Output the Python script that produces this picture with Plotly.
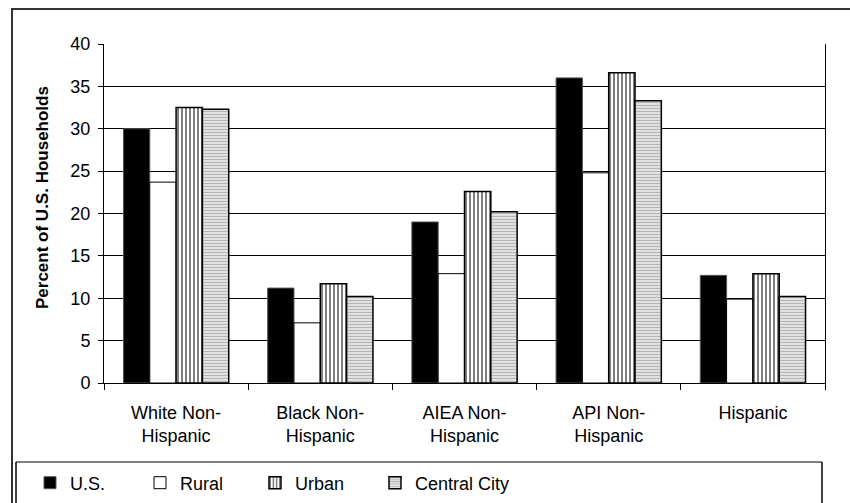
import plotly.graph_objects as go

categories = ["White Non-<br>Hispanic", "Black Non-<br>Hispanic", "AIEA Non-<br>Hispanic",
              "API Non-<br>Hispanic", "Hispanic"]
us = [30.0, 11.2, 19.0, 36.0, 12.7]
rural = [23.7, 7.1, 12.9, 24.8, 9.9]
urban = [32.5, 11.7, 22.6, 36.6, 12.9]
central_city = [32.3, 10.2, 20.2, 33.3, 10.2]
y_ticks = [0, 5, 10, 15, 20, 25, 30, 35, 40]
y_title = "<b>Percent of U.S. Households</b>"

W, H = 850, 503
L, R, T, B = 104, 825, 44, 383

FONT = "Liberation Sans, Arial, sans-serif"
FS = 18


def px_x(p):
    return (p - L) / (R - L)


def px_y(p):
    return (B - p) / (B - T)


fig = go.Figure()
fig.add_bar(name="U.S.", x=categories, y=us, legend="legend",
            marker=dict(color="black", line=dict(color="#555", width=1)))
fig.add_bar(name="Rural", x=categories, y=rural, legend="legend2",
            marker=dict(color="white", line=dict(color="black", width=1)))
fig.add_bar(name="Urban", x=categories, y=urban, legend="legend3",
            marker=dict(color="white", line=dict(color="black", width=1.5),
                        pattern=dict(shape="|", fgcolor="black", bgcolor="white",
                                     size=4, solidity=0.5, fillmode="overlay")))
fig.add_bar(name="Central City", x=categories, y=central_city, legend="legend4",
            marker=dict(color="white", line=dict(color="black", width=1.5),
                        pattern=dict(shape="-", fgcolor="#6a6a6a", bgcolor="white",
                                     size=3, solidity=0.6, fillmode="overlay")))

shapes = [
    # outer chart border
    dict(type="rect", xref="paper", yref="paper", x0=px_x(12), x1=px_x(900),
         y0=px_y(9), y1=px_y(560), line=dict(color="#333", width=2)),
    # legend box
    dict(type="line", xref="paper", yref="paper", x0=px_x(16), x1=px_x(822),
         y0=px_y(462), y1=px_y(462), line=dict(color="#808080", width=2)),
    dict(type="line", xref="paper", yref="paper", x0=px_x(16), x1=px_x(16),
         y0=px_y(462), y1=px_y(560), line=dict(color="black", width=1.5)),
    dict(type="line", xref="paper", yref="paper", x0=px_x(822), x1=px_x(822),
         y0=px_y(462), y1=px_y(560), line=dict(color="black", width=1.5)),
]


def leg(xpx):
    return dict(orientation="h", x=px_x(xpx), xanchor="left",
                y=px_y(483), yanchor="middle",
                font=dict(family=FONT, size=FS, color="black"),
                bgcolor="rgba(0,0,0,0)", borderwidth=0)


fig.update_layout(
    width=W, height=H,
    margin=dict(l=L, r=W - R, t=T, b=H - B, pad=0, autoexpand=False),
    paper_bgcolor="white", plot_bgcolor="white",
    font=dict(family=FONT, size=FS, color="black"),
    barmode="group", bargap=0.27, bargroupgap=0,
    shapes=shapes,
    showlegend=True,
    legend=leg(30), legend2=leg(140), legend3=leg(255), legend4=leg(375),
    annotations=[dict(text=y_title, textangle=-90, xref="paper", yref="paper",
                      x=px_x(42), y=px_y(198), xanchor="center", yanchor="middle",
                      showarrow=False,
                      font=dict(family=FONT, size=FS - 1, color="black"))],
    xaxis=dict(showline=True, linecolor="black", linewidth=1, automargin=False,
               ticks="outside", tickson="boundaries", ticklen=6, tickcolor="black",
               tickfont=dict(family=FONT, size=FS, color="black"),
               ticklabelstandoff=13, showgrid=False),
    yaxis=dict(range=[0, 40], tickvals=y_ticks, showline=True, linecolor="black",
               linewidth=1, mirror=True, ticks="outside", ticklen=5, tickcolor="black",
               tickfont=dict(family=FONT, size=FS, color="black"),
               ticklabelstandoff=4, automargin=False,
               showgrid=True, gridcolor="black", gridwidth=1, zeroline=False),
)

fig.write_html("out.html", config=dict(displayModeBar=False),
               post_script="document.body.style.margin='0';document.body.style.overflow='hidden';")
